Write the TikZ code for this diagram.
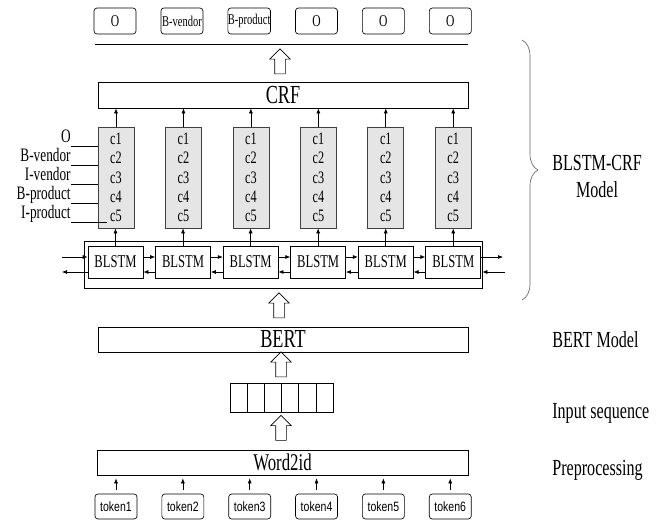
\documentclass[tikz,border=0pt]{standalone}
\usepackage{fontspec}
\setmainfont{Liberation Serif}[FakeStretch=0.7]
\setsansfont{Liberation Sans}[FakeStretch=0.78]
\usepackage{tikz}
\usetikzlibrary{shapes.arrows,arrows.meta,positioning,decorations.pathreplacing}

\begin{document}
\begin{tikzpicture}[
    x=1pt, y=-1pt, line width=0.65pt,
    widebox/.style={rectangle, draw, minimum width=370pt, minimum height=26pt, inner sep=0pt, font=\fontsize{26}{28}\selectfont},
    tagbox/.style={rectangle, draw, rounded corners=3pt, minimum width=42pt, minimum height=26pt, inner sep=0pt, font=\fontsize{16.5}{18}\selectfont},
    colbox/.style={rectangle, draw=black!75, fill=black!10, minimum width=36pt, minimum height=101pt, inner sep=0pt, align=center, font=\fontsize{17.5}{19.3}\selectfont},
    lstm/.style={rectangle, draw, minimum width=55pt, minimum height=32pt, inner sep=0pt, font=\fontsize{18}{20}\selectfont},
    tokbox/.style={rectangle, draw, rounded corners=3pt, minimum width=42pt, minimum height=25pt, inner sep=0pt, font=\sffamily\fontsize{13.5}{15}\selectfont},
    cell/.style={rectangle, draw, minimum width=17.17pt, minimum height=29pt, inner sep=0pt, outer sep=0pt},
    hollow/.style={single arrow, draw, shape border rotate=90, minimum height=25pt, inner sep=5pt, single arrow head extend=5pt},
    arrow/.style={-{Latex[length=5pt,width=4pt]}},
    tagname/.style={anchor=south east, inner sep=0pt, text depth=3pt, font=\fontsize{19}{21}\selectfont},
    side/.style={anchor=west, inner sep=0pt, align=center, font=\fontsize{23}{27}\selectfont}
]
\useasboundingbox (0,0) rectangle (656,522);

% Output tags
\node[tagbox] (t1) at (115,21) {O};
\node[tagbox, right=24.3pt of t1, font=\fontsize{15}{16}\selectfont] (t2) {B-vendor};
\node[tagbox, right=24.3pt of t2, font=\fontsize{15}{16}\selectfont] (t3) {B-product};
\node[tagbox, right=24.3pt of t3] (t4) {O};
\node[tagbox, right=24.3pt of t4] (t5) {O};
\node[tagbox, right=24.3pt of t5] (t6) {O};
\draw (95,44) -- (468,44);

% CRF layer
\node[hollow] (up1) at (280,64) {};
\node[widebox] (crf) at (283,95) {CRF};

% Score columns
\node[colbox] (c1) at (116,177.5) {c1\\c2\\c3\\c4\\c5};
\node[colbox, right=30.8pt of c1] (c2) {c1\\c2\\c3\\c4\\c5};
\node[colbox, right=30.8pt of c2] (c3) {c1\\c2\\c3\\c4\\c5};
\node[colbox, right=30.8pt of c3] (c4) {c1\\c2\\c3\\c4\\c5};
\node[colbox, right=30.8pt of c4] (c5) {c1\\c2\\c3\\c4\\c5};
\node[colbox, right=30.8pt of c5] (c6) {c1\\c2\\c3\\c4\\c5};

\draw[arrow] (c1.north) -- (c1.north |- crf.south);
\draw[arrow] (c2.north) -- (c2.north |- crf.south);
\draw[arrow] (c3.north) -- (c3.north |- crf.south);
\draw[arrow] (c4.north) -- (c4.north |- crf.south);
\draw[arrow] (c5.north) -- (c5.north |- crf.south);
\draw[arrow] (c6.north) -- (c6.north |- crf.south);

% Tag names
\node[tagname] (lo) at (71,146) {O};
\node[tagname] (lbv) at (71,165) {B-vendor};
\node[tagname] (liv) at (71,184) {I-vendor};
\node[tagname] (lbp) at (71,203) {B-product};
\node[tagname] (lip) at (71,222) {I-product};
\draw (lo.south east) -- (lo.south east -| c1.west);
\draw (lbv.south east) -- (lbv.south east -| c1.west);
\draw (liv.south east) -- (liv.south east -| c1.west);
\draw (lbp.south east) -- (lbp.south east -| c1.west);
\draw (lip.south east) -- +(36,0);

% BLSTM layer
\node[draw, minimum width=398pt, minimum height=47pt, inner sep=0pt] (frame) at (283,264.5) {};
\node[lstm] (b1) at (115.5,262) {BLSTM};
\node[lstm, right=11.9pt of b1] (b2) {BLSTM};
\node[lstm, right=11.9pt of b2] (b3) {BLSTM};
\node[lstm, right=11.9pt of b3] (b4) {BLSTM};
\node[lstm, right=11.9pt of b4] (b5) {BLSTM};
\node[lstm, right=11.9pt of b5] (b6) {BLSTM};

\draw[arrow] (b1.north) -- (b1.north |- c1.south);
\draw[arrow] (b2.north) -- (b2.north |- c2.south);
\draw[arrow] (b3.north) -- (b3.north |- c3.south);
\draw[arrow] (b4.north) -- (b4.north |- c4.south);
\draw[arrow] (b5.north) -- (b5.north |- c5.south);
\draw[arrow] (b6.north) -- (b6.north |- c6.south);

\draw[arrow] ([yshift=5pt]b1.east) -- ([yshift=5pt]b2.west);
\draw[arrow] ([yshift=5pt]b2.east) -- ([yshift=5pt]b3.west);
\draw[arrow] ([yshift=5pt]b3.east) -- ([yshift=5pt]b4.west);
\draw[arrow] ([yshift=5pt]b4.east) -- ([yshift=5pt]b5.west);
\draw[arrow] ([yshift=5pt]b5.east) -- ([yshift=5pt]b6.west);
\draw[arrow] ([yshift=-10pt]b2.west) -- ([yshift=-10pt]b1.east);
\draw[arrow] ([yshift=-10pt]b3.west) -- ([yshift=-10pt]b2.east);
\draw[arrow] ([yshift=-10pt]b4.west) -- ([yshift=-10pt]b3.east);
\draw[arrow] ([yshift=-10pt]b5.west) -- ([yshift=-10pt]b4.east);
\draw[arrow] ([yshift=-10pt]b6.west) -- ([yshift=-10pt]b5.east);

\coordinate (inl) at (62,257);
\coordinate (outl) at (62,272);
\coordinate (outr) at (503,257);
\coordinate (inr) at (505,272);
\draw[arrow] (inl) -- ([yshift=5pt]b1.west);
\draw[arrow] ([yshift=-10pt]b1.west) -- (outl);
\draw[arrow] ([yshift=5pt]b6.east) -- (outr);
\draw[arrow] (inr) -- (inr -| frame.east);

% BERT and input
\node[hollow] (up2) at (279,308) {};
\node[widebox, minimum height=25pt] (bert) at (283,339.5) {BERT};
\node[hollow] (up3) at (281,367) {};
\node[cell] (s1) at (238.6,397.5) {};
\node[cell, right=0pt of s1] (s2) {};
\node[cell, right=0pt of s2] (s3) {};
\node[cell, right=0pt of s3] (s4) {};
\node[cell, right=0pt of s4] (s5) {};
\node[cell, right=0pt of s5] (s6) {};
\node[hollow] (up4) at (281,430.5) {};

% Preprocessing
\node[widebox, minimum width=371pt, minimum height=25pt, font=\fontsize{24}{26}\selectfont] (w2i) at (282.5,462.5) {Word2id};
\node[tokbox] (k1) at (116,506.5) {token1};
\node[tokbox, right=24.2pt of k1] (k2) {token2};
\node[tokbox, right=24.2pt of k2] (k3) {token3};
\node[tokbox, right=24.2pt of k3] (k4) {token4};
\node[tokbox, right=24.2pt of k4] (k5) {token5};
\node[tokbox, right=24.2pt of k5] (k6) {token6};

\draw[arrow, shorten <=4pt, shorten >=3pt] (k1.north) -- (k1.north |- w2i.south);
\draw[arrow, shorten <=4pt, shorten >=3pt] (k2.north) -- (k2.north |- w2i.south);
\draw[arrow, shorten <=4pt, shorten >=3pt] (k3.north) -- (k3.north |- w2i.south);
\draw[arrow, shorten <=4pt, shorten >=3pt] (k4.north) -- (k4.north |- w2i.south);
\draw[arrow, shorten <=4pt, shorten >=3pt] (k5.north) -- (k5.north |- w2i.south);
\draw[arrow, shorten <=4pt, shorten >=3pt] (k6.north) -- (k6.north |- w2i.south);

% Side labels
\draw[black!60, decorate, decoration={brace, amplitude=16pt}] (522,40) -- (522,300);
\node[side] (blstmcrf) at (552,176.5) {BLSTM-CRF\\Model};
\node[side] (bertlab) at (552,340) {BERT Model};
\node[side] (seqlab) at (552,413) {Input sequence};
\node[side] (prelab) at (552,470) {Preprocessing};

\end{tikzpicture}
\end{document}
